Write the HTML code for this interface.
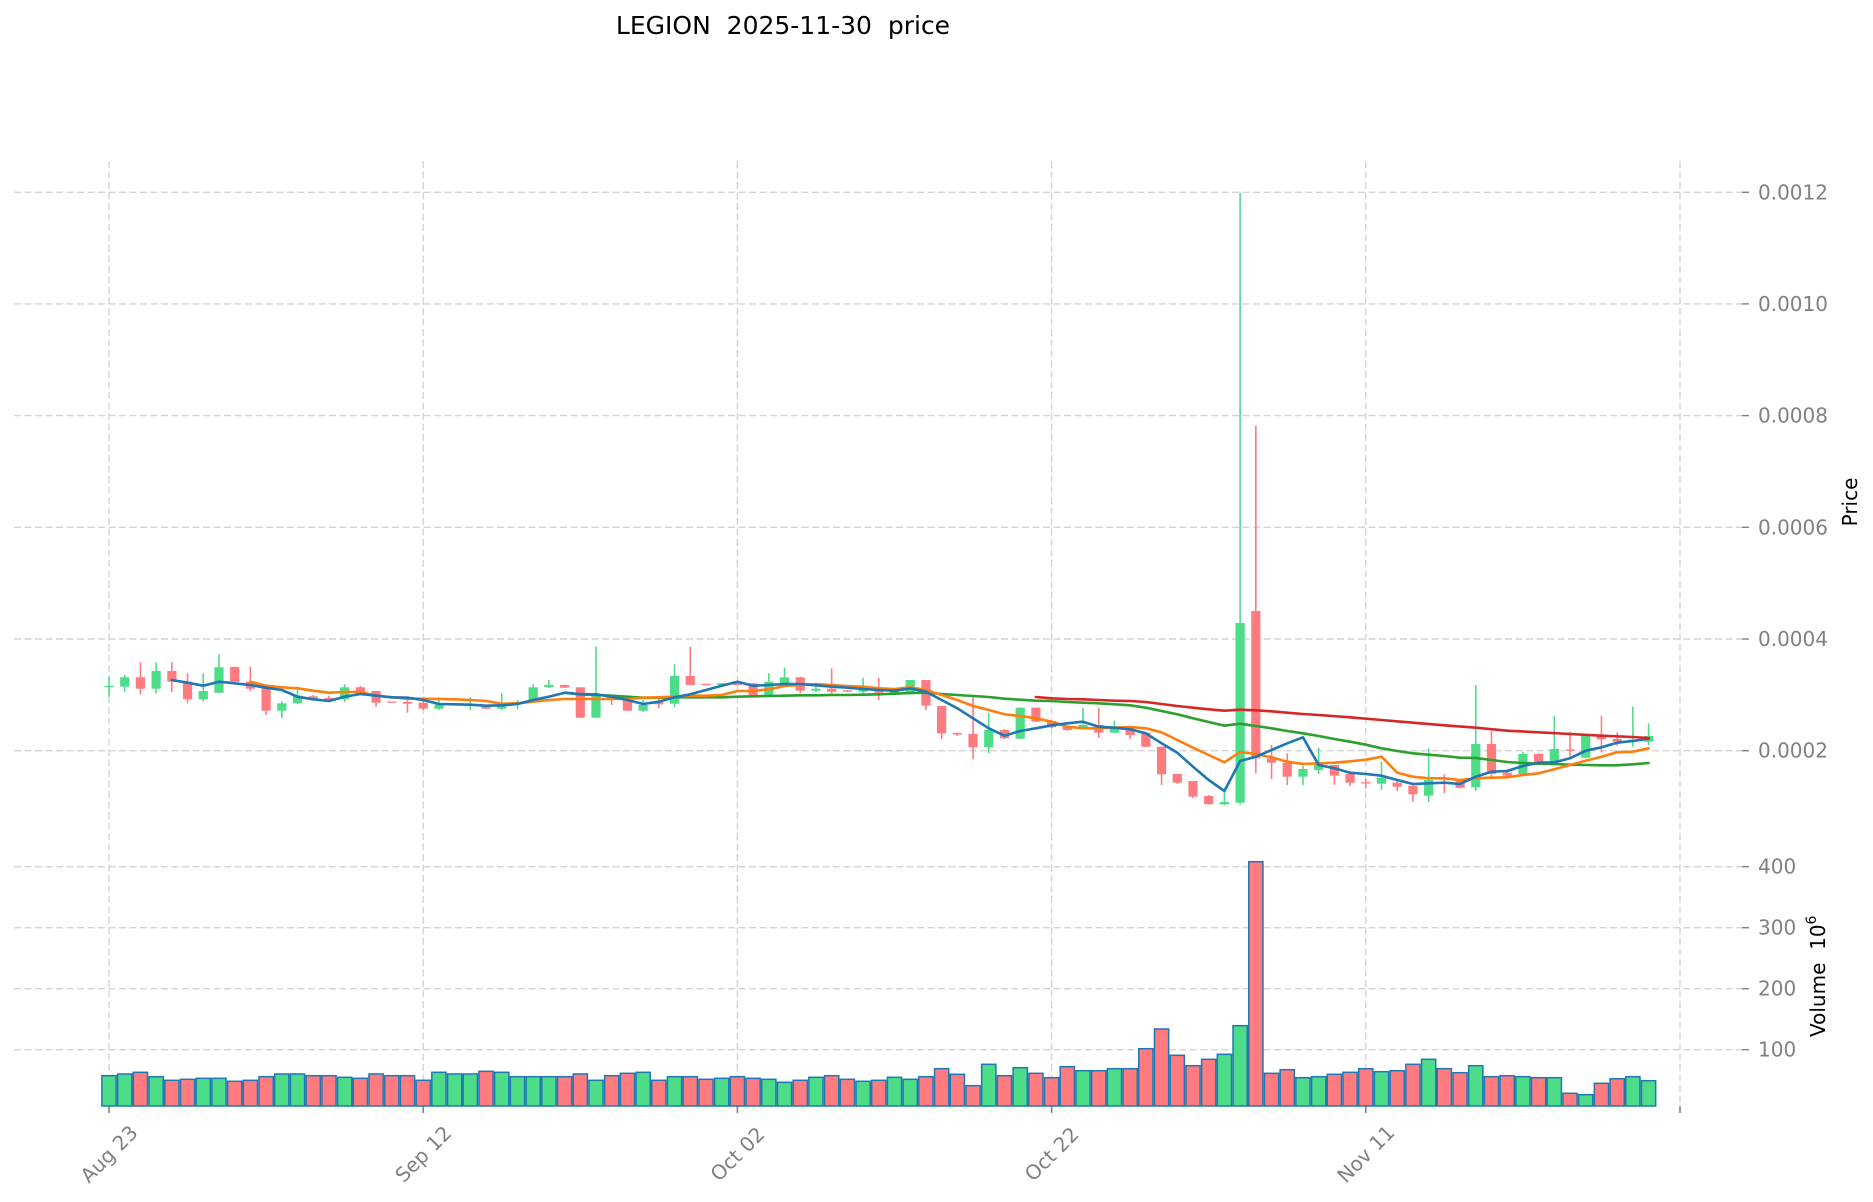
<!DOCTYPE html>
<html><head><meta charset="utf-8">
<style>
html,body{margin:0;padding:0;background:#fff;}
svg{display:block;}
text{font-family:"DejaVu Sans","Liberation Sans",sans-serif;}
</style></head><body>
<svg id="c" width="1873" height="1202" xmlns="http://www.w3.org/2000/svg">
<rect width="1873" height="1202" fill="#fff"/>
<g id="grid"></g>
<g id="vol"></g>
<g id="cand"></g>
<g id="ma"></g>
<g id="labels">
<text x="783" y="34" text-anchor="middle" font-size="25" fill="#000" style="white-space:pre">LEGION  2025-11-30  price</text>
<text transform="translate(1857,502) rotate(-90)" text-anchor="middle" font-size="20" fill="#000">Price</text>
<text transform="translate(1825,1037) rotate(-90)" text-anchor="start" font-size="20" fill="#000" style="white-space:pre">Volume  10<tspan font-size="14" dy="-9">6</tspan></text>
</g>
</svg>
<script>
(function(){
var NS="http://www.w3.org/2000/svg";
function el(tag,attrs,parent,txt){var e=document.createElementNS(NS,tag);for(var k in attrs)e.setAttribute(k,attrs[k]);if(txt!==undefined)e.textContent=txt;parent.appendChild(e);return e;}
var X=function(i){return 109+15.71*i;};
var G='#4ddc88',R='#ff7b80',GRID='#d4d4d4',TXT='#808080';
var grid=document.getElementById('grid'),vol=document.getElementById('vol'),cand=document.getElementById('cand'),ma=document.getElementById('ma'),lab=document.getElementById('labels');
// horizontal grid + right ticks + labels
var hs=[[192.3,'0.0012'],[303.9,'0.0010'],[415.6,'0.0008'],[527.3,'0.0006'],[639,'0.0004'],[750.7,'0.0002'],[866.7,'400'],[927.7,'300'],[988.7,'200'],[1049.7,'100']];
hs.forEach(function(h){
 el('line',{x1:14,x2:1742,y1:h[0],y2:h[0],stroke:GRID,'stroke-width':1.4,'stroke-dasharray':'7,3.5'},grid);
 el('line',{x1:1742,x2:1749,y1:h[0],y2:h[0],stroke:TXT,'stroke-width':1.4},grid);
 el('text',{x:1758,y:h[0],'font-size':20,fill:TXT,'dominant-baseline':'central'},lab,h[1]);
});
// vertical grid + bottom ticks + date labels
var vs=[[0,'Aug 23'],[20,'Sep 12'],[40,'Oct 02'],[60,'Oct 22'],[80,'Nov 11'],[100,'']];
vs.forEach(function(v){
 var x=X(v[0]);
 el('line',{x1:x,x2:x,y1:161,y2:1106,stroke:GRID,'stroke-width':1.4,'stroke-dasharray':'7,3.5'},grid);
 el('line',{x1:x,x2:x,y1:1106,y2:1113,stroke:TXT,'stroke-width':1.6},grid);
 if(v[1]) el('text',{x:x,y:1154,'font-size':20,fill:TXT,'text-anchor':'middle','dominant-baseline':'central',transform:'rotate(-45 '+x+' 1154)'},lab,v[1]);
});
// candles: color, bodyTop, bodyBot, wickTop, wickBot
var C=[
['g',685.8,687.2,676.7,696.7],['g',677.3,686.7,674.7,692],['r',677.3,688.7,662.3,694.3],['g',671,688.7,662.3,693.3],['r',671,681.7,662.3,692],
['r',681.7,699.3,673.3,703.3],['g',691,699.3,673.3,701.3],['g',667.3,692.7,654.3,693.3],['r',667,681.7,666.7,682],['r',681.7,688.7,666.7,691],
['r',687.3,710.7,687.3,715],['g',703.3,710.7,701.3,718],['g',695.7,703.3,686.7,704],['r',696.3,698.7,695,699.5],['r',698,700,695.7,700.5],
['g',687.3,699.3,684.3,702],['r',687.3,694.3,686,695],['r',691,702.7,691,706.7],['r',701.5,702.5,701.5,702.5],['r',702,703.7,698.7,712.7],
['r',702.7,708.7,698.7,710],['g',704.7,708.7,697.3,710],['g',703.8,704.8,703.8,704.8],['g',704.2,705.2,697.3,710],['r',706,708.7,705.5,709.5],
['g',703.3,708.7,693.3,710],['g',702,703.5,700,709.3],['g',687.3,700,684.3,700.5],['g',685,687.3,680,688.3],['r',685,687.7,684.5,688],
['r',687.3,717.7,687.3,718],['g',694.3,717.7,646.7,717.7],['r',697.5,699,696.7,705],['r',700,710.7,700,711],['g',705,710.7,700,711.7],
['r',702.3,704.3,698.3,708.3],['g',676,703.7,664.3,707.3],['r',676,685,646.7,685.3],['r',683.8,684.8,683.8,684.8],['g',683.3,685,683,685.5],
['r',683.3,685,683,685.5],['r',683.3,695,683.3,695.5],['g',681.7,695,673.3,695.3],['g',677.3,685,667.7,685.3],['r',677.3,690.7,676.7,693.3],
['g',688.7,690.7,686.7,692.3],['r',688.7,691.7,668.3,695],['r',690.3,691.7,690,692],['g',688.3,691.7,677.7,693.3],['r',689.3,692.7,677.7,700],
['g',691,693,690,694],['g',680,694.3,680,694.5],['r',680,705.7,680,710],['r',706,733.3,706,739],['r',733,734.5,732.5,736],
['r',734,747.3,697.3,759.3],['g',730,747.3,712.7,753.3],['r',730,738.3,729,739],['g',707.7,738.7,707.5,739],['r',707.7,721.7,707.5,722],
['r',721,727.3,720.5,728],['r',726,730,725.5,731],['g',725,727.3,707.7,728],['r',725,732.7,707.7,738],['g',728.3,732.7,720.7,733],
['r',728.3,735,728,739],['r',732.7,746.7,732.5,747],['r',746.7,774.3,746.5,785],['r',774,782.7,774,784],['r',781,796.7,781,798.3],
['r',796,804.3,795,804.5],['g',802,804.3,791.7,805.3],['g',623,802.7,192.7,804.5],['r',611,758.3,425.7,773.3],['r',758.3,762.7,745,779.3],
['r',762.7,776.7,753.3,785],['g',769,776.7,765.7,785],['g',764.3,770,747.7,774],['r',765,775.7,765,785],['r',774,782.7,774,786],
['r',782.2,783.2,778.3,788.3],['g',777.7,783.7,761.7,790],['r',782.7,786.7,780,791],['r',785.7,794.3,785.5,802],['g',780,795.7,748.3,802],
['r',781.8,782.8,774.3,793.3],['r',780,787.7,779,788.3],['g',744,787.3,685,791],['r',744,774,731,779],['r',772.7,775.7,769.3,776.7],
['g',754,774,751.7,776],['r',754,762.3,753.3,763.3],['g',749,762.3,715.7,763.3],['r',749.5,750.5,731.7,756.7],['g',736,757.7,735,758.3],
['r',736,739.3,715.7,752.7],['r',739,741.7,732.3,745.7],['g',739.5,740.5,706.7,746.7],['g',736,741.7,723.3,745]
];
var V=[1075.7,1074,1072.3,1076.7,1080.3,1079.3,1078.3,1078.3,1081.3,1080.3,1076.7,1074,1074,1075.7,1075.7,1077.3,1078.3,1074,1075.7,1075.7,
1080.3,1072.3,1074,1074,1071.3,1072.3,1076.7,1076.7,1076.7,1076.7,1074,1080.3,1075.7,1073.3,1072.3,1080.3,1076.7,1076.7,1079.3,1078.3,
1076.7,1078.3,1079.3,1082.3,1080.3,1077.3,1075.7,1079.3,1081.3,1080.3,1077.3,1079.3,1076.7,1068.7,1074.3,1085.7,1064.3,1075.7,1067.7,1073.3,
1077.7,1066.7,1070.7,1070.7,1068.7,1068.7,1048.7,1029,1055.3,1065.7,1059.3,1054.3,1025.7,861.7,1073.3,1069.7,1077.7,1076.7,1074.3,1072.3,
1068.7,1071.7,1070.7,1064.3,1059.3,1068.7,1072.7,1065.7,1076.7,1075.7,1076.7,1077.7,1077.7,1093.3,1094.7,1083.3,1078.7,1076.7,1080.7];
for(var i=0;i<C.length;i++){
 var x=X(i),c=C[i],col=c[0]=='g'?G:R;
 el('rect',{x:(x-7.1).toFixed(2),y:V[i],width:14.2,height:(1106-V[i]).toFixed(2),fill:col,stroke:'#1f77b4','stroke-width':1.5},vol);
 el('line',{x1:x.toFixed(2),x2:x.toFixed(2),y1:c[3],y2:c[4],stroke:col,'stroke-width':1.6},cand);
 var h=Math.max(c[2]-c[1],1.3);
 el('rect',{x:(x-4.6).toFixed(2),y:c[1],width:9.2,height:h.toFixed(2),fill:col},cand);
}
function line(start,arr,color){
 var p=[];for(var k=0;k<arr.length;k++)p.push(X(start+k).toFixed(2)+','+arr[k]);
 el('polyline',{points:p.join(' '),fill:'none',stroke:color,'stroke-width':2.6,'stroke-linejoin':'round','stroke-linecap':'round'},ma);
}
var blue=[680,682.7,685.7,681.7,683.3,685,687.7,690,696.7,699.3,701,696.7,694,695.7,697.3,697.7,700,704,704.3,704.7,705.7,705.3,
704,700,696.7,692.7,694.3,694.3,696.7,700,704,701.7,697.3,694.3,690,685.7,681.7,685.7,685,684,684,685.3,686.7,687.7,689,690,690.7,688.5,
691.7,700,708.3,718.3,728.3,735.7,731,728.3,725.3,723.3,721.7,726.7,727.7,729.3,733.3,743.3,752.7,766.7,780,791,761,756.7,750,743.3,737.3,765,
768.3,772.7,774,775.7,780,784,783.3,782.7,784,776.7,771.7,771,766,762.7,762.3,758.3,750.7,747.3,742.7,741,738.7];
var orange=[681.7,685.7,687.3,688.3,690.7,692.7,692,692,695.7,697.3,698.7,698.7,699,699.3,700,701,703.7,
703.3,701.7,700,699,699,699,699,699,697.7,697.3,696.7,695.7,695.7,695,691,691,689.3,686,685,684,685,686,686.7,688.3,689,687.3,
690,695,700,706,710,714.3,716,718.3,721.7,726.7,728.3,728.3,727.7,727,728.3,732.3,740,747.7,755,762.3,752,754,757.3,761.7,764,763.3,
762.7,761.3,759.7,756.7,772.7,776.7,778.3,778.3,780,778.3,777.7,777.3,775,773.3,769.3,765,760.7,756.7,752.3,751.7,748.3];
var green=[692.7,694.3,695,695.7,696.7,697.7,697.7,697.3,697.3,697.3,697.3,696.7,696.3,696,695.7,695.3,695.3,695,695,694.7,694.3,693.7,693,
692.7,694,695,696,697,698.7,699.7,700.7,701,702,702.7,703.3,704.3,705.3,707.7,711,714.3,718.3,722,725.7,723.7,726,728.3,731,733.3,736,
739,741.7,744.7,748.3,751,753.3,754.7,756,757.7,758,760,762,763,763.7,764,764.7,765,765.3,765.3,764.3,763];
line(29,green,'#2ca02c');
line(9,orange,'#ff7f0e');
line(4,blue,'#1f77b4');
var red=[[59,697],[60,698.3],[61,699],[62,699.3],[63,700],[64,700.7],[65,701],[66,702],[67,704],[68,706],[69,707.7],[70,709.3],[71,710.7],[72,709.7],[73,710.3],[74,711.3],[75,712.7],[76,714],[77,715],[79,717.3],[81,720],[83,722.7],[85,725.3],[87,727.7],[89,730.7],[91,732.3],[93,734],[95,735.7],[97,737],[98,738]];
var rp=red.map(function(q){return X(q[0]).toFixed(2)+','+q[1];}).join(' ');
el('polyline',{points:rp,fill:'none',stroke:'#d62728','stroke-width':2.6,'stroke-linejoin':'round','stroke-linecap':'round'},ma);
})();
</script>
</body></html>
